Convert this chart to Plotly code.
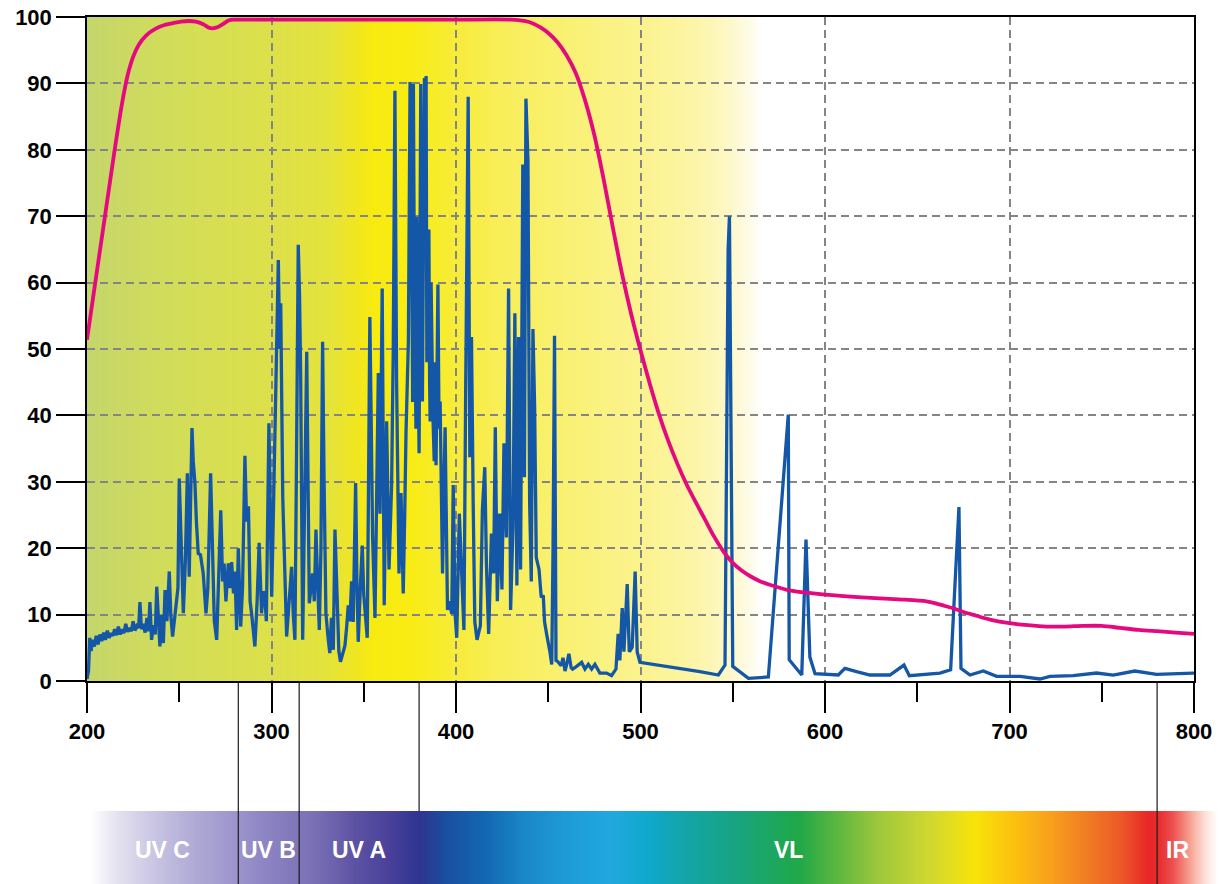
import base64
import struct
import zlib

import numpy as np
import plotly.graph_objects as go

# ---------------- data ----------------
# Blue emission spectrum (wavelength nm, relative intensity %)
blue_wl = [
    200.0, 200.8, 201.5, 202.2, 203.0, 204.0, 205.0, 206.0, 207.0, 208.0,
    209.0, 210.0, 211.0, 212.0, 213.0, 214.0, 215.0, 216.0, 217.0, 218.0,
    219.0, 220.0, 221.0, 222.0, 223.0, 224.0, 225.0, 226.0, 227.0, 228.0,
    228.7, 229.5, 230.5, 231.5, 232.5, 233.3, 234.1, 235.0, 236.0, 237.0,
    237.8, 238.6, 239.5, 240.5, 241.4, 242.3, 243.3, 244.6, 245.4, 246.4,
    247.5, 248.6, 249.3, 250.0, 251.0, 252.2, 253.3, 254.4, 255.4, 256.9,
    257.6, 258.5, 259.3, 260.3, 261.5, 263.0, 264.5, 265.5, 267.0, 268.0,
    269.0, 270.3, 271.3, 272.5, 273.5, 274.3, 275.3, 276.6, 277.6, 278.4,
    279.4, 280.2, 281.1, 282.0, 283.3, 284.3, 285.6, 286.5, 287.5, 288.4,
    289.2, 290.1, 291.0, 292.2, 293.3, 294.6, 295.5, 296.4, 297.2, 298.6,
    299.4, 300.1, 301.0, 301.9, 302.8, 303.7, 304.4, 305.0, 306.1, 307.3,
    308.2, 309.1, 310.0, 310.9, 311.8, 312.7, 313.6, 314.5, 315.2, 315.8,
    316.9, 318.0, 319.1, 319.8, 320.5, 321.4, 322.3, 323.2, 324.1, 325.0,
    325.9, 326.8, 327.7, 328.5, 329.5, 330.5, 331.6, 332.5, 333.5, 334.4,
    335.7, 336.5, 337.4, 338.5, 339.8, 340.7, 341.6, 342.5, 343.4, 344.3,
    345.0, 345.6, 346.3, 347.0, 348.3, 349.2, 350.0, 350.6, 351.9, 352.6,
    353.3, 354.0, 354.8, 356.1, 357.0, 357.9, 358.8, 360.0, 361.1, 361.8,
    362.4, 363.7, 365.1, 366.0, 366.9, 367.8, 369.1, 370.2, 371.4, 372.2,
    372.9, 374.2, 375.1, 375.6, 376.0, 376.5, 376.9, 377.4, 377.8, 378.3,
    378.7, 379.3, 380.0, 380.5, 380.9, 381.3, 381.8, 382.4, 382.9, 383.4,
    383.8, 384.2, 384.7, 385.3, 385.7, 386.0, 386.5, 386.9, 387.5, 388.2,
    388.7, 389.2, 389.7, 390.2, 390.8, 391.4, 392.0, 392.7, 393.4, 394.1,
    395.4, 396.5, 397.7, 398.5, 399.5, 400.4, 401.8, 403.1, 404.3, 405.2,
    406.0, 406.6, 407.5, 408.4, 409.3, 410.2, 411.4, 412.3, 413.2, 414.3,
    415.6, 416.5, 417.7, 419.2, 420.4, 421.3, 422.4, 423.7, 424.9, 426.0,
    427.3, 428.5, 429.6, 430.9, 431.9, 433.0, 433.9, 435.0, 436.2, 437.1,
    437.9, 439.0, 439.9, 440.8, 441.7, 442.6, 443.5, 445.0, 446.2, 447.3,
    448.0, 449.1, 450.0, 450.9, 451.9, 452.6, 453.4, 454.2, 455.2, 456.4,
    457.0, 458.0, 459.1, 460.0, 461.2, 462.4, 463.2, 465.4, 468.1, 469.9,
    471.7, 473.5, 475.3, 478.0, 481.6, 484.3, 486.7, 487.9, 488.8, 490.1,
    491.0, 492.8, 493.9, 495.5, 497.1, 498.2, 499.7, 532.2, 542.2, 545.8,
    547.5, 548.2, 549.0, 550.0, 558.5, 569.3, 580.1, 580.6, 587.4, 589.7,
    591.8, 594.6, 607.2, 610.8, 617.1, 624.4, 635.2, 642.8, 645.7, 662.3,
    668.1, 672.6, 673.7, 678.6, 685.8, 693.0, 705.7, 716.5, 721.9, 734.5,
    747.2, 756.2, 767.9, 779.7, 799.6, 800.0,
]
blue_val = [
    0.3, 1.5, 6.5, 4.5, 6.2, 5.2, 6.8, 5.5, 7.0, 6.0,
    7.3, 6.2, 7.6, 6.5, 7.2, 6.8, 7.8, 6.9, 8.2, 7.0,
    7.8, 7.2, 8.6, 7.4, 8.0, 7.5, 9.0, 7.6, 8.3, 8.0,
    11.9, 7.8, 8.6, 7.3, 9.5, 7.5, 11.9, 6.2, 8.4, 7.0,
    14.2, 8.5, 5.2, 10.0, 5.7, 13.7, 9.0, 16.5, 10.0, 6.7,
    9.5, 11.2, 14.0, 30.5, 20.0, 10.2, 18.0, 31.3, 15.7, 38.1,
    33.0, 29.8, 24.0, 19.2, 19.0, 16.2, 10.2, 14.0, 31.3, 20.0,
    9.0, 6.2, 14.0, 25.7, 15.0, 17.7, 12.0, 17.7, 14.0, 17.9,
    13.2, 16.5, 7.7, 20.0, 8.2, 14.0, 33.9, 24.0, 26.3, 12.0,
    10.2, 7.7, 5.2, 12.0, 20.8, 10.2, 13.5, 12.7, 9.0, 38.8,
    20.0, 12.7, 25.0, 38.1, 50.0, 63.4, 50.0, 56.9, 27.7, 15.2,
    6.7, 10.2, 14.0, 17.2, 10.0, 6.2, 35.0, 65.7, 58.0, 46.3,
    6.2, 25.0, 49.6, 30.0, 11.7, 14.0, 16.2, 12.0, 22.8, 15.0,
    7.7, 20.0, 51.1, 30.0, 10.2, 7.0, 4.2, 9.5, 4.7, 22.8,
    10.1, 4.5, 2.9, 4.0, 5.3, 8.0, 11.4, 9.0, 15.0, 8.9,
    18.0, 29.8, 15.0, 5.9, 15.0, 20.4, 13.0, 10.7, 6.5, 30.0,
    54.8, 40.0, 21.6, 9.5, 25.0, 46.4, 25.2, 59.1, 11.4, 25.0,
    39.1, 16.8, 29.5, 50.0, 88.9, 45.2, 16.2, 28.3, 13.2, 25.0,
    37.3, 51.2, 90.2, 60.0, 67.5, 42.0, 89.9, 62.0, 51.2, 38.0,
    69.9, 50.0, 34.3, 66.0, 89.9, 55.0, 42.1, 70.0, 90.8, 65.0,
    91.1, 48.0, 57.2, 68.0, 45.0, 39.1, 60.0, 51.2, 40.0, 33.1,
    48.0, 32.5, 45.0, 59.7, 38.0, 42.1, 30.0, 16.2, 28.0, 38.2,
    10.7, 12.0, 10.1, 29.5, 10.1, 6.5, 25.2, 15.0, 7.7, 42.1,
    70.0, 88.0, 33.7, 51.8, 27.0, 8.9, 6.2, 7.5, 8.3, 25.8,
    32.2, 17.4, 7.1, 22.2, 16.2, 38.2, 12.0, 25.2, 13.8, 35.8,
    21.6, 59.1, 10.7, 23.4, 55.4, 14.4, 51.8, 16.8, 77.8, 30.7,
    87.7, 78.4, 27.1, 15.0, 53.0, 41.5, 18.6, 16.8, 12.6, 12.9,
    8.9, 7.1, 6.0, 4.4, 2.5, 20.0, 52.0, 3.1, 2.9, 2.5,
    2.3, 3.5, 1.5, 2.5, 4.1, 2.0, 1.8, 2.2, 2.8, 1.8,
    2.5, 1.8, 2.5, 1.2, 1.2, 0.8, 1.8, 7.1, 3.1, 11.0,
    4.4, 14.6, 4.4, 5.1, 16.5, 4.4, 2.8, 1.4, 0.9, 2.4,
    65.0, 70.0, 45.0, 2.2, 0.4, 0.6, 40.1, 3.2, 0.9, 21.3,
    3.6, 1.1, 0.9, 1.9, 1.4, 0.9, 0.9, 2.4, 0.8, 1.2,
    1.7, 26.2, 1.9, 0.9, 1.5, 0.7, 0.7, 0.3, 0.7, 0.8,
    1.2, 0.9, 1.5, 1.0, 1.2, 1.2,
]

# Magenta transmission curve (wavelength nm, transmission %)
trans_wl = [
    200, 205, 210, 215, 219, 222, 225, 228, 232, 237,
    242, 247, 251, 255, 259, 263, 266, 268, 271, 274,
    277, 280, 300, 350, 400, 430, 437, 442, 446, 450,
    455, 460, 465, 470, 475, 480, 485, 490, 495, 500,
    505, 510, 515, 520, 525, 530, 535, 540, 545, 550,
    555, 560, 565, 570, 580, 590, 600, 620, 640, 655,
    660, 665, 670, 675, 680, 690, 700, 710, 720, 730,
    740, 750, 760, 770, 780, 790, 800,
]
trans_val = [
    51.4, 61.0, 70.5, 80.0, 87.0, 91.2, 94.0, 95.8, 97.2, 98.2,
    98.8, 99.1, 99.3, 99.4, 99.3, 98.9, 98.4, 98.3, 98.5, 99.0,
    99.5, 99.6, 99.6, 99.6, 99.6, 99.6, 99.4, 99.0, 98.4, 97.6,
    96.2, 94.2, 91.5, 87.4, 82.2, 75.6, 68.3, 61.3, 55.2, 49.8,
    44.8, 40.2, 36.2, 32.7, 29.6, 26.9, 24.3, 21.7, 19.5, 17.8,
    16.6, 15.7, 15.0, 14.5, 13.7, 13.3, 13.0, 12.6, 12.3, 12.0,
    11.7, 11.3, 10.9, 10.4, 10.0, 9.2, 8.7, 8.4, 8.2, 8.2,
    8.3, 8.3, 8.0, 7.7, 7.5, 7.3, 7.1,
]

# Axis ticks
x_ticks = [200, 300, 400, 500, 600, 700, 800]
y_ticks = [0, 10, 20, 30, 40, 50, 60, 70, 80, 90, 100]

# Spectral bands: edges (nm) and labels
band_edges = [200, 282, 315, 380, 780, 802]
band_labels = ["UV C", "UV B", "UV A", "VL", "IR"]
band_line_to_bottom = [True, True, False, True]   # for inner edges 282, 315, 380, 780

# Background gradient of the plot area (nm -> colour)
bg_stops_nm = [200, 230, 260, 300, 330, 345, 355, 375, 400, 425, 450, 480,
               500, 520, 535, 548, 558, 566, 800]
bg_stops_col = ["#c5d66b", "#cedb5f", "#d5de54", "#dce04a", "#e4e33c", "#f0e622",
                "#f8eb10", "#f8ec14", "#f7ec3a", "#f8ee5a", "#f9f06c", "#faf282",
                "#fbf38e", "#fcf49e", "#fcf6b0", "#fdf8c8", "#fefbe4", "#ffffff",
                "#ffffff"]

# Spectrum colour bar under the chart (nm -> colour)
spec_stops_nm = [201.6, 216.0, 237.0, 258.0, 281.0, 302.0, 323.0, 344.0, 365.0,
                 380.0, 395.0, 416.0, 437.0, 458.0, 483.5, 505.0, 525.0, 553.0,
                 586.0, 608.0, 630.0, 657.0, 681.0, 702.0, 723.0, 744.0, 761.0,
                 776.0, 782.0, 789.0, 799.0, 807.0, 813.6]
spec_stops_col = ["#ffffff", "#e4e2f0", "#c8c4e2", "#b0aad6", "#9c94cc", "#8880c0",
                  "#7a70b6", "#5e54a4", "#48409a", "#2e3590", "#1a50a2", "#1268b2",
                  "#1a88c8", "#1e9ad6", "#22a8e0", "#10a8cc", "#14a4a8", "#18a480",
                  "#20a848", "#60b840", "#a0c83c", "#d0d830", "#f8e40a", "#fcc20e",
                  "#f8a01e", "#f07a24", "#ec5828", "#e82626", "#e83030", "#ee5050",
                  "#f8a898", "#fde4dc", "#ffffff"]

# ---------------- helpers ----------------
def hex_to_rgb(h):
    h = h.lstrip("#")
    return [int(h[i:i + 2], 16) for i in (0, 2, 4)]


def gradient_png(stops_nm, stops_col, nm_from, nm_to, n):
    xs = np.linspace(nm_from, nm_to, n)
    rgb = np.array([hex_to_rgb(c) for c in stops_col], dtype=float)
    row = np.stack([np.interp(xs, stops_nm, rgb[:, k]) for k in range(3)], axis=1)
    row = np.clip(np.round(row), 0, 255).astype(np.uint8)
    h = 2
    raw = b"".join(b"\x00" + row.tobytes() for _ in range(h))

    def chunk(tag, data):
        return (struct.pack(">I", len(data)) + tag + data
                + struct.pack(">I", zlib.crc32(tag + data) & 0xFFFFFFFF))

    png = (b"\x89PNG\r\n\x1a\n"
           + chunk(b"IHDR", struct.pack(">IIBBBBB", n, h, 8, 2, 0, 0, 0))
           + chunk(b"IDAT", zlib.compress(raw, 9))
           + chunk(b"IEND", b""))
    return "data:image/png;base64," + base64.b64encode(png).decode()


# ---------------- geometry ----------------
W, H = 1219, 884
ML, MT = 87, 17
plot_w_px = 1107            # width of the chart area (200..800 nm)
plot_h_px = 664             # height of the chart area (0..100 %)
paper_w = W - ML            # margins: right 0, bottom 0
paper_h = H - MT
x_dom_end = plot_w_px / paper_w
y_dom_start = (paper_h - plot_h_px) / paper_h
px_per_nm = plot_w_px / 600.0

bar_top_px = 811            # top of spectrum bar (figure px)
bar_top_paper = (H - bar_top_px) / paper_h
label_y_paper = (H - 850) / paper_h


def nm_to_paper(nm):
    return (nm - 200.0) * px_per_nm / paper_w


# ---------------- figure ----------------
fig = go.Figure()

fig.add_trace(go.Scatter(
    x=blue_wl, y=blue_val, mode="lines",
    line=dict(color="#1457a6", width=3.3),
    hoverinfo="skip", showlegend=False,
))
fig.add_trace(go.Scatter(
    x=trans_wl, y=trans_val, mode="lines",
    line=dict(color="#e5097f", width=3.8, shape="spline", smoothing=0.8),
    hoverinfo="skip", showlegend=False,
))

images = [
    dict(source=gradient_png(bg_stops_nm, bg_stops_col, 200, 800, 601),
         xref="x", yref="y", x=200, y=100, sizex=600, sizey=100,
         xanchor="left", yanchor="top", sizing="stretch", layer="below"),
    dict(source=gradient_png(spec_stops_nm, spec_stops_col,
                             spec_stops_nm[0], spec_stops_nm[-1], 613),
         xref="paper", yref="paper",
         x=nm_to_paper(spec_stops_nm[0]), y=bar_top_paper,
         sizex=nm_to_paper(spec_stops_nm[-1]) - nm_to_paper(spec_stops_nm[0]),
         sizey=bar_top_paper,
         xanchor="left", yanchor="top", sizing="stretch", layer="below"),
]

shapes = []
for edge, to_bottom in zip(band_edges[1:-1], band_line_to_bottom):
    shapes.append(dict(type="line", xref="x", yref="paper",
                       x0=edge, x1=edge, y0=y_dom_start,
                       y1=0 if to_bottom else bar_top_paper,
                       line=dict(color="#1a1a1a", width=1.2), layer="above"))

annotations = []
for i, lab in enumerate(band_labels):
    cx = (band_edges[i] + band_edges[i + 1]) / 2.0
    annotations.append(dict(
        x=cx, y=label_y_paper, xref="x", yref="paper", text=lab,
        showarrow=False, xanchor="center", yanchor="middle",
        font=dict(family="Liberation Sans", size=23, color="white", weight="bold"),
    ))

tick_font = dict(family="Liberation Sans", size=22, color="black", weight="bold")
grid_dash = "8px,5px"

fig.update_layout(
    width=W, height=H, autosize=False,
    margin=dict(l=ML, r=0, t=MT, b=0, pad=0, autoexpand=False),
    paper_bgcolor="white", plot_bgcolor="white",
    images=images, shapes=shapes, annotations=annotations,
    xaxis=dict(
        domain=[0, x_dom_end], range=[200, 800], automargin=False,
        tickmode="array", tickvals=x_ticks, ticktext=[str(v) for v in x_ticks],
        ticks="outside", ticklen=30, tickwidth=1.5, tickcolor="black",
        tickfont=tick_font,
        minor=dict(tickmode="linear", tick0=200, dtick=50, ticks="outside",
                   ticklen=19, tickwidth=1.5, tickcolor="black", showgrid=False),
        showline=True, linecolor="black", linewidth=1.5, mirror=True,
        showgrid=True, gridcolor="#858585", gridwidth=1.6, griddash=grid_dash,
        zeroline=False, fixedrange=True,
    ),
    yaxis=dict(
        domain=[y_dom_start, 1], range=[0, 100], automargin=False,
        tickmode="array", tickvals=y_ticks, ticktext=[str(v) for v in y_ticks],
        ticks="outside", ticklen=29, tickwidth=1.5, tickcolor="black",
        tickfont=tick_font,
        showline=True, linecolor="black", linewidth=1.5, mirror=True,
        showgrid=True, gridcolor="#858585", gridwidth=1.6, griddash=grid_dash,
        zeroline=False, fixedrange=True,
    ),
)

post = (
    "document.documentElement.style.margin='0';"
    "document.body.style.margin='0';"
)
fig.write_html("out.html", config={"displayModeBar": False}, post_script=post)
